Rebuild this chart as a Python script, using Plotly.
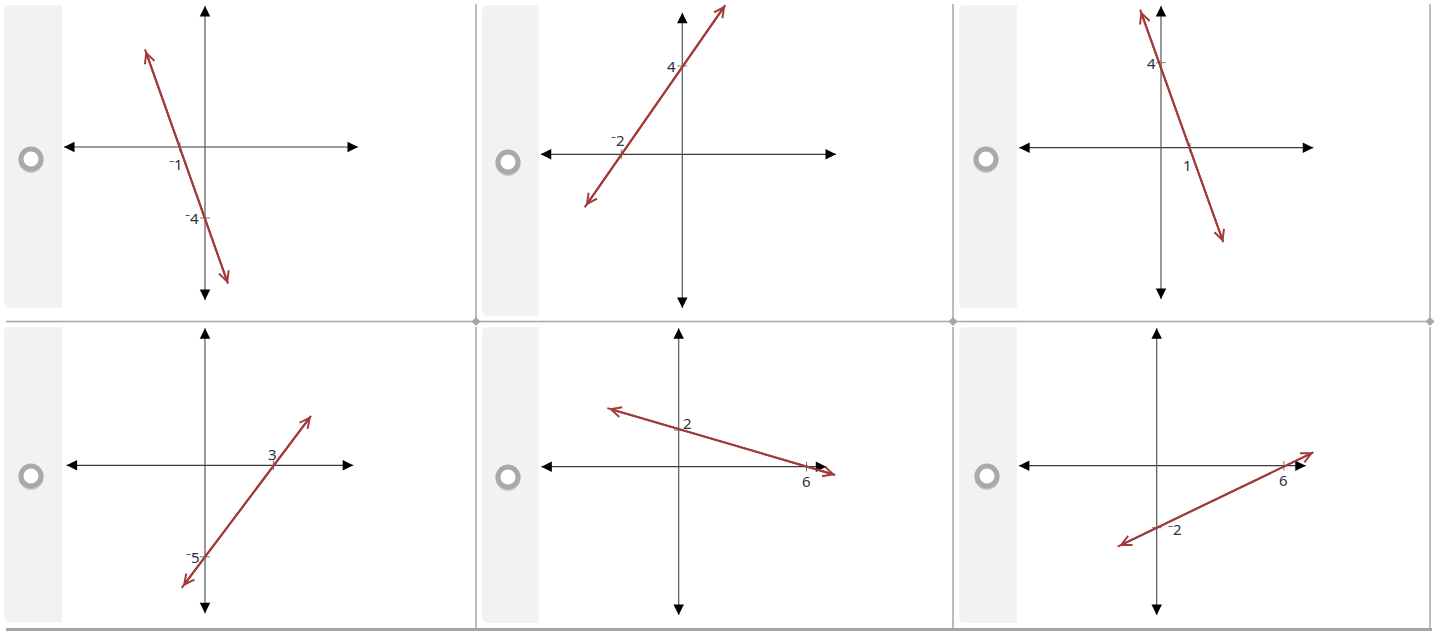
"""Six answer choices, each a line graph with its intercepts marked."""

import plotly.graph_objects as go

W, H = 1441, 632

# data: one entry per answer card (top row left to right, then bottom row)
x_intercepts = [-1, -2, 1, 3, 6, 6]
y_intercepts = [-4, 4, 4, -5, 2, -2]
x_int_labels = ["⁻1", "⁻2", "1", "3", "6", "6"]
y_int_labels = ["⁻4", "4", "4", "⁻5", "2", "⁻2"]

# ends of the red line (arrow tips)
line_start_x = [-2.4, -3.2, -0.72, -1.02, -3.35, -1.84]
line_start_y = [5.5, -2.4, 6.5, -6.7, 3.2, -2.61]
line_end_x = [0.92, 1.41, 2.15, 4.65, 7.35, 7.39]
line_end_y = [-7.7, 6.75, -4.45, 2.7, -0.45, 0.43]

# ends of the coordinate axes (arrow tips)
x_axis_min = [-5.64, -4.64, -4.89, -6.07, -6.45, -6.5]
x_axis_max = [6.12, 5.04, 5.25, 6.5, 6.93, 7.03]
y_axis_min = [-8.62, -6.96, -7.12, -8.09, -8.1, -4.82]
y_axis_max = [7.94, 6.41, 6.67, 7.49, 7.56, 4.43]

## layout of each panel: origin in pixels and pixels per unit
panel_px = [
    dict(ox=205, oy=147, sx=25, sy=17.75, box=(62, 0, 476, 321)),
    dict(ox=682.3, oy=154.3, sx=30.5, sy=22.1, box=(539, 0, 953, 321)),
    dict(ox=1161, oy=147.7, sx=29, sy=21.25, box=(1017, 0, 1430, 321)),
    dict(ox=205, oy=465.3, sx=22.8, sy=18.3, box=(62, 322, 476, 632)),
    dict(ox=678.7, oy=466.7, sx=21.3, sy=18.3, box=(539, 322, 953, 632)),
    dict(ox=1156.7, oy=465.7, sx=21.2, sy=31, box=(1017, 322, 1430, 632)),
]
# label offsets in pixels (x label, y label)
label_shift = [
    ((-4, -17), (-13, 0)),
    ((-3, 14), (-11, 0)),
    ((-3, -17), (-10, 0)),
    ((-1, 11), (-12, 0)),
    ((0, -14), (9, 7)),
    ((0, -14), (18, -1)),
]
radio_px = [(31, 159), (508, 162), (986, 159), (31, 476), (508, 477), (987, 476)]
strip_px = [
    (4, 5, 62, 308), (482, 5, 539, 316), (959, 5, 1017, 308),
    (4, 327, 62, 622), (482, 327, 539, 623), (959, 327, 1017, 623),
]

RED = "#a33a3a"
AXIS = "#555555"
TEXT = "#2e3040"
FONT = "Noto Sans"


def px(x, y):
    return x / W, 1 - y / H


def rounded_left(x0, y0, x1, y1, r=6):
    a = px(x0 + r, y0)
    path = f"M {a[0]},{a[1]}"
    for p in [(x1, y0), (x1, y1), (x0 + r, y1)]:
        q = px(*p)
        path += f" L {q[0]},{q[1]}"
    c, e = px(x0, y1), px(x0, y1 - r)
    path += f" Q {c[0]},{c[1]} {e[0]},{e[1]}"
    e = px(x0, y0 + r)
    path += f" L {e[0]},{e[1]}"
    c, e = px(x0, y0), px(x0 + r, y0)
    path += f" Q {c[0]},{c[1]} {e[0]},{e[1]} Z"
    return path


fig = go.Figure()
shapes = []
annotations = []
layout_axes = {}

# card decorations
for x0, y0, x1, y1 in strip_px:
    shapes.append(dict(type="path", xref="paper", yref="paper", path=rounded_left(x0, y0, x1, y1),
                       fillcolor="#f2f2f2", line_width=0, layer="below"))

border = "#a6a6a6"
for xv in [476, 953, 1430]:
    for ya, yb in [(4, 321), (327, 629)]:
        a, b = px(xv, ya), px(xv, yb)
        shapes.append(dict(type="line", xref="paper", yref="paper", x0=a[0], y0=a[1], x1=b[0], y1=b[1],
                           line=dict(color=border, width=1.5), layer="below"))
for yv, lw in [(321.5, 1.5), (629.5, 3)]:
    a, b = px(6, yv), px(1432, yv)
    shapes.append(dict(type="line", xref="paper", yref="paper", x0=a[0], y0=a[1], x1=b[0], y1=b[1],
                       line=dict(color=border, width=lw), layer="below"))
for xv in [476, 953, 1430]:
    pts = [px(xv, 317), px(xv + 4.5, 321.5), px(xv, 326), px(xv - 4.5, 321.5)]
    path = "M " + " L ".join(f"{p[0]},{p[1]}" for p in pts) + " Z"
    shapes.append(dict(type="path", xref="paper", yref="paper", path=path, fillcolor=border,
                       line_width=0, layer="below"))

# radio buttons
for cx, cy in radio_px:
    for dy, col in [(1.5, "#c9c9c9"), (0, "#a9a9a9")]:
        a, b = px(cx - 10, cy - 10 + dy), px(cx + 10, cy + 10 + dy)
        shapes.append(dict(type="circle", xref="paper", yref="paper", x0=a[0], y0=a[1], x1=b[0], y1=b[1],
                           fillcolor="white", line=dict(color=col, width=5), layer="below"))

for i, p in enumerate(panel_px):
    n = "" if i == 0 else str(i + 1)
    xr, yr = "x" + n, "y" + n
    bx0, by0, bx1, by1 = p["box"]
    layout_axes["xaxis" + n] = dict(
        domain=[bx0 / W, bx1 / W],
        range=[(bx0 - p["ox"]) / p["sx"], (bx1 - p["ox"]) / p["sx"]],
        visible=False, anchor=yr, fixedrange=True,
    )
    layout_axes["yaxis" + n] = dict(
        domain=[1 - by1 / H, 1 - by0 / H],
        range=[(p["oy"] - by1) / p["sy"], (p["oy"] - by0) / p["sy"]],
        visible=False, anchor=xr, fixedrange=True,
    )

    # coordinate axes
    fig.add_trace(go.Scatter(x=[x_axis_min[i], x_axis_max[i]], y=[0, 0], mode="lines",
                             line=dict(color="#3a3a3a", width=1.2), xaxis=xr, yaxis=yr, hoverinfo="skip"))
    fig.add_trace(go.Scatter(x=[0, 0], y=[y_axis_min[i], y_axis_max[i]], mode="lines",
                             line=dict(color=AXIS, width=1.2), xaxis=xr, yaxis=yr, hoverinfo="skip"))
    for (tx, ty), (dx, dy) in [((x_axis_max[i], 0), (-10, 0)), ((x_axis_min[i], 0), (10, 0)),
                               ((0, y_axis_max[i]), (0, 10)), ((0, y_axis_min[i]), (0, -10))]:
        annotations.append(dict(x=tx, y=ty, xref=xr, yref=yr, ax=dx, ay=dy, text="", showarrow=True,
                                arrowhead=2, arrowsize=1.5, arrowwidth=1.4, arrowcolor="black"))

    # intercept ticks
    fig.add_trace(go.Scatter(x=[x_intercepts[i]], y=[0], mode="markers", xaxis=xr, yaxis=yr,
                             marker=dict(symbol="line-ns", size=7, line=dict(color="#777", width=1)),
                             hoverinfo="skip"))
    fig.add_trace(go.Scatter(x=[0], y=[y_intercepts[i]], mode="markers", xaxis=xr, yaxis=yr,
                             marker=dict(symbol="line-ew", size=7, line=dict(color="#777", width=1)),
                             hoverinfo="skip"))

    # the red line with open arrowheads at both ends
    fig.add_trace(go.Scatter(x=[line_start_x[i], line_end_x[i]], y=[line_start_y[i], line_end_y[i]],
                             mode="lines", line=dict(color=RED, width=2), xaxis=xr, yaxis=yr,
                             hoverinfo="skip"))
    annotations.append(dict(x=line_end_x[i], y=line_end_y[i], ax=line_start_x[i], ay=line_start_y[i],
                            xref=xr, yref=yr, axref=xr, ayref=yr, text="", showarrow=True,
                            arrowside="end+start", arrowhead=5, startarrowhead=5,
                            arrowsize=1, startarrowsize=1, arrowwidth=2, arrowcolor=RED))

    # intercept labels
    (xsx, xsy), (ysx, ysy) = label_shift[i]
    annotations.append(dict(x=x_intercepts[i], y=0, xref=xr, yref=yr, text=x_int_labels[i],
                            showarrow=False, xshift=xsx, yshift=xsy,
                            font=dict(family=FONT, size=15, color=TEXT)))
    annotations.append(dict(x=0, y=y_intercepts[i], xref=xr, yref=yr, text=y_int_labels[i],
                            showarrow=False, xshift=ysx, yshift=ysy,
                            font=dict(family=FONT, size=15, color=TEXT)))

fig.update_layout(
    width=W,
    height=H,
    margin=dict(l=0, r=0, t=0, b=0),
    paper_bgcolor="white",
    plot_bgcolor="rgba(0,0,0,0)",
    showlegend=False,
    shapes=shapes,
    annotations=annotations,
    **layout_axes,
)

# the page's default body margin would push the figure 8px in
fig.write_html("out.html", config={"displayModeBar": False},
               post_script="document.body.style.margin = '0';")
